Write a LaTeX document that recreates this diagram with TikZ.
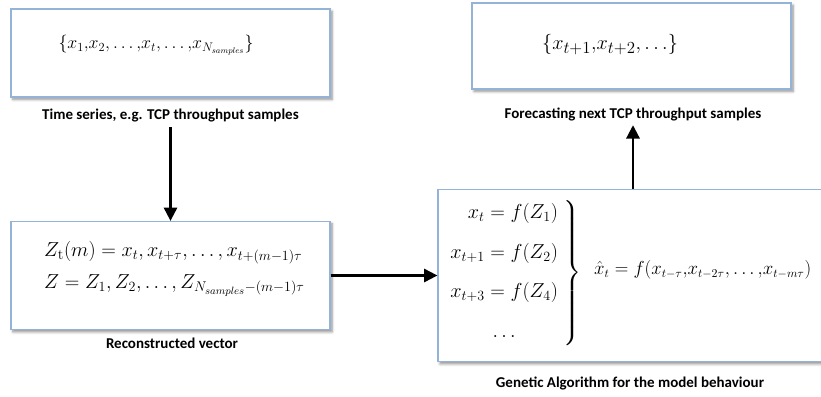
\documentclass[tikz,border=0pt]{standalone}
\usepackage{fontspec}
\usepackage{amsmath}
\usepackage{graphicx}
\newfontfamily\lblfont{Carlito}
\usetikzlibrary{arrows.meta,shadows.blur}
\definecolor{boxblue}{HTML}{95B3D7}
\begin{document}
\begin{tikzpicture}[x=0.03cm,y=-0.03cm,
box/.style={draw=boxblue,line width=1.1pt,fill=white,inner sep=0pt,
  blur shadow={shadow xshift=0.06cm,shadow yshift=-0.07cm,shadow blur steps=6,shadow blur radius=0.08cm,shadow opacity=45}},
lbl/.style={font=\lblfont\bfseries\fontsize{12.8}{15}\selectfont,inner sep=1pt,outer sep=3pt},
eq/.style={font=\fontsize{18}{22}\selectfont,inner sep=0pt}]
\useasboundingbox (0,0) rectangle (821,397);
\clip (0,0) rectangle (821,397);
\path node[box,minimum width=9.57cm,minimum height=2.64cm] (TS) at (170.5,53) {}
node[box,minimum width=9.57cm,minimum height=3.24cm] (RV) at (170.5,275.5) {}
node[box,minimum width=11.7cm,minimum height=5.16cm] (GA) at (633,275.5) {}
node[box,minimum width=9.57cm,minimum height=2.58cm] (FC) at (631.5,46) {}
node[eq,font=\fontsize{17}{21}\selectfont] (TSeq) at (156,45) {\scalebox{0.88}{$\{x_1{,}x_2{,}\ldots{,}x_t{,}\ldots{,}x_{N_{samples}}\}$}}
node[eq,font=\fontsize{19}{23}\selectfont] (FCeq) at (610,45) {$\{x_{t+1}{,}x_{t+2}{,}\ldots\}$}
node[eq,anchor=west,align=left] (RVeq) at (44,269) {$Z_{\mathrm{t}}(m) = x_t, x_{t+\tau},\ldots,x_{t+(m-1)\tau}$\\[5pt]
  $Z = Z_1,Z_2,\ldots,Z_{N_{samples}-(m-1)\tau}$}
node[eq,anchor=east,font=\fontsize{17}{21}\selectfont] (GAsys) at (582,273) {$\left.\begin{array}{r}
  x_t = f(Z_1)\\[13pt] x_{t+1} = f(Z_2)\\[13pt] x_{t+3} = f(Z_4)\\[13pt] \multicolumn{1}{c}{\ldots}
  \end{array}\right\}$}
node[eq,anchor=west,font=\fontsize{16}{20}\selectfont] (GAeq) at (594,270) {\scalebox{0.93}{$\hat{x}_t = f(x_{t-\tau}{,}x_{t-2\tau}{,}\ldots{,}x_{t-m\tau})$}}
node[lbl] (TSlabel) at (170.5,116) {Time series, e.g. TCP throughput samples}
node[lbl] (RVlabel) at (172,343) {Reconstructed vector}
node[lbl] (GAlabel) at (630,383) {Genetic Algorithm for the model behaviour}
node[lbl] (FClabel) at (633,114) {Forecasting next TCP throughput samples}
;
\draw[line width=1.8pt,-{Triangle[length=0.4cm,width=0.4cm]}] (TSlabel) -- (RV);
\draw[line width=1.8pt,-{Triangle[length=0.4cm,width=0.4cm]}] (RV) -- (GA);
\draw[line width=1.8pt,-{Triangle[length=0.4cm,width=0.4cm]}] (GA) -- (FClabel);
\end{tikzpicture}
\end{document}
